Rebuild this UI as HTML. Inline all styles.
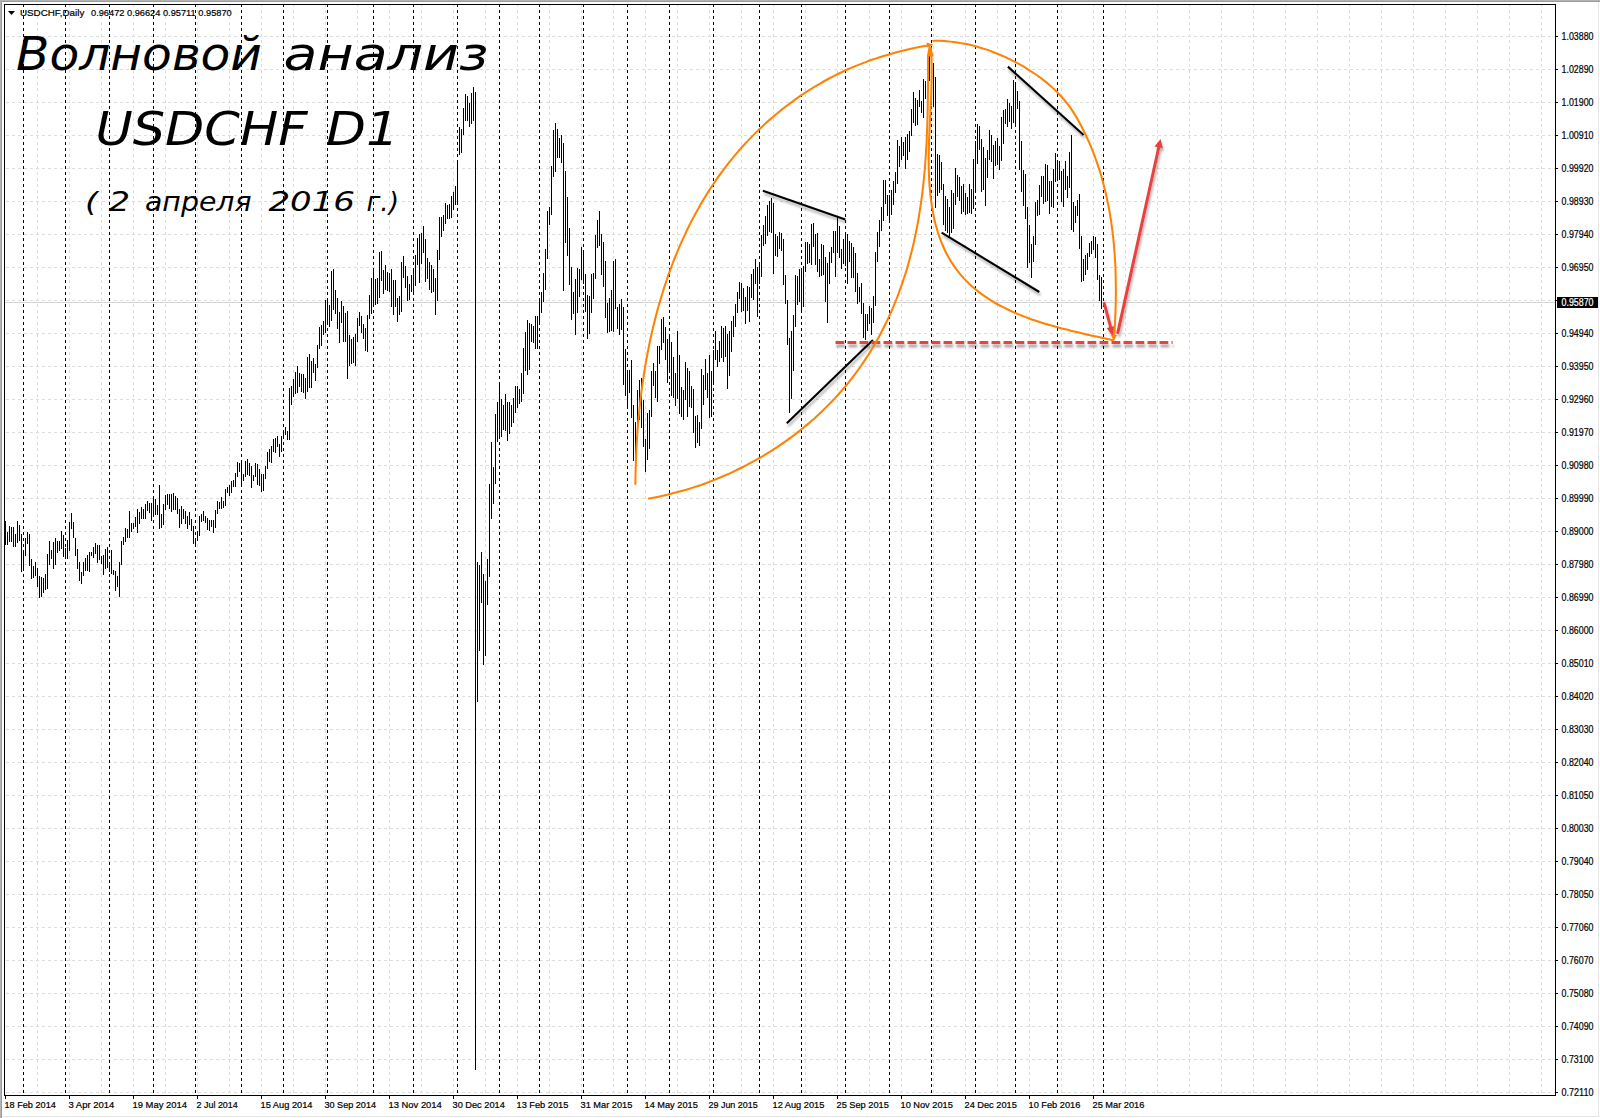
<!DOCTYPE html>
<html lang="ru"><head><meta charset="utf-8"><title>Волновой анализ USDCHF D1</title>
<style>
html,body{margin:0;padding:0;background:#fff;}
body{width:1600px;height:1118px;overflow:hidden;position:relative;}
svg{position:absolute;left:0;top:0;display:block;}
.ax{font-family:"Liberation Sans",sans-serif;font-size:10px;fill:#000;stroke:#000;stroke-width:0.2px;}
.dt{font-family:"Liberation Sans",sans-serif;font-size:9.7px;fill:#000;stroke:#000;stroke-width:0.22px;}
.hd{font-family:"Liberation Sans",sans-serif;font-size:9.4px;fill:#000;stroke:#000;stroke-width:0.2px;}
.hw{font-family:"DejaVu Sans","Liberation Sans",sans-serif;font-style:italic;fill:#000;}
</style></head><body>
<svg width="1600" height="1118" viewBox="0 0 1600 1118">
<rect x="0" y="0" width="1600" height="1118" fill="#ffffff"/>
<g shape-rendering="crispEdges">
<rect x="0" y="0" width="1600" height="1" fill="#b4b4b4"/>
<rect x="0" y="1" width="1600" height="1" fill="#9a9a9a"/>
<rect x="0" y="0" width="1" height="1118" fill="#b4b4b4"/>
<rect x="1" y="1" width="1" height="1118" fill="#9a9a9a"/>
<rect x="1598" y="2" width="1" height="1115" fill="#e6e6e6"/>
<rect x="2" y="1116" width="1597" height="1" fill="#e6e6e6"/>
</g>
<path d="M37.5 4V1095M69.5 4V1095M101.5 4V1095M133.5 4V1095M165.5 4V1095M197.5 4V1095M229.5 4V1095M261.5 4V1095M293.5 4V1095M325.5 4V1095M357.5 4V1095M389.5 4V1095M421.5 4V1095M453.5 4V1095M485.5 4V1095M517.5 4V1095M549.5 4V1095M581.5 4V1095M613.5 4V1095M645.5 4V1095M677.5 4V1095M709.5 4V1095M741.5 4V1095M773.5 4V1095M805.5 4V1095M837.5 4V1095M869.5 4V1095M901.5 4V1095M933.5 4V1095M965.5 4V1095M997.5 4V1095M1029.5 4V1095M1061.5 4V1095M1093.5 4V1095M1125.5 4V1095M1157.5 4V1095M1189.5 4V1095M1221.5 4V1095M1253.5 4V1095M1285.5 4V1095M1317.5 4V1095M1349.5 4V1095M1381.5 4V1095M1413.5 4V1095M1445.5 4V1095M1477.5 4V1095M1509.5 4V1095M1541.5 4V1095" stroke="#dedede" stroke-width="1" stroke-dasharray="3 3" fill="none" shape-rendering="crispEdges"/>
<path d="M6 36.5H1555M6 69.5H1555M6 102.5H1555M6 135.5H1555M6 168.5H1555M6 201.5H1555M6 234.5H1555M6 267.5H1555M6 300.5H1555M6 333.5H1555M6 366.5H1555M6 399.5H1555M6 432.5H1555M6 465.5H1555M6 498.5H1555M6 531.5H1555M6 564.5H1555M6 597.5H1555M6 630.5H1555M6 663.5H1555M6 696.5H1555M6 729.5H1555M6 762.5H1555M6 795.5H1555M6 828.5H1555M6 861.5H1555M6 894.5H1555M6 927.5H1555M6 960.5H1555M6 993.5H1555M6 1026.5H1555M6 1059.5H1555M6 1092.5H1555" stroke="#dedede" stroke-width="1" stroke-dasharray="3 3" fill="none" shape-rendering="crispEdges"/>
<path d="M5 302.5H1555" stroke="#d5d5d5" stroke-width="1" fill="none" shape-rendering="crispEdges"/>
<path d="M23.5 4V1095M65.5 4V1095M109.5 4V1095M153.5 4V1095M195.5 4V1095M241.5 4V1095M283.5 4V1095M327.5 4V1095M373.5 4V1095M413.5 4V1095M457.5 4V1095M499.5 4V1095M539.5 4V1095M583.5 4V1095M627.5 4V1095M669.5 4V1095M713.5 4V1095M759.5 4V1095M801.5 4V1095M845.5 4V1095M889.5 4V1095M931.5 4V1095M975.5 4V1095M1015.5 4V1095M1057.5 4V1095M1103.5 4V1095" stroke="#000" stroke-width="1" stroke-dasharray="3 3" fill="none" shape-rendering="crispEdges"/>
<path d="M5.5 521V545M7.5 532V545M9.5 526V542M11.5 527V542M13.5 527V547M15.5 534V547M17.5 521V543M19.5 525V541M21.5 534V572M23.5 550V571M25.5 538V556M27.5 532V544M29.5 534V566M31.5 559V579M33.5 566V578M35.5 562V576M37.5 568V587M39.5 576V598M41.5 577V597M43.5 578V593M45.5 574V590M47.5 554V589M49.5 541V565M51.5 550V559M53.5 542V569M55.5 538V565M57.5 541V553M59.5 541V551M61.5 531V549M63.5 535V557M65.5 548V559M67.5 540V559M69.5 522V551M71.5 513V529M73.5 522V538M75.5 538V556M77.5 549V569M79.5 562V581M81.5 572V584M83.5 562V576M85.5 558V571M87.5 555V571M89.5 552V572M91.5 552V556M93.5 547V558M95.5 543V554M97.5 545V563M99.5 545V560M101.5 556V564M103.5 555V575M105.5 549V569M107.5 547V568M109.5 562V572M111.5 550V574M113.5 570V575M115.5 571V591M117.5 576V587M119.5 562V597M121.5 541V565M123.5 537V545M125.5 528V542M127.5 529V538M129.5 511V538M131.5 523V532M133.5 523V529M135.5 517V527M137.5 509V533M139.5 512V524M141.5 507V519M143.5 509V519M145.5 504V519M147.5 501V511M149.5 503V513M151.5 503V521M153.5 496V517M155.5 499V515M157.5 505V515M159.5 485V529M161.5 514V528M163.5 504V525M165.5 495V510M167.5 494V505M169.5 494V509M171.5 494V512M173.5 493V510M175.5 496V510M177.5 498V514M179.5 509V528M181.5 506V524M183.5 509V519M185.5 511V524M187.5 516V529M189.5 512V525M191.5 519V531M193.5 526V544M195.5 539V547M197.5 531V541M199.5 516V536M201.5 514V522M203.5 511V521M205.5 516V523M207.5 518V530M209.5 520V531M211.5 520V527M213.5 520V533M215.5 510V528M217.5 501V514M219.5 502V509M221.5 497V509M223.5 501V508M225.5 489V506M227.5 487V493M229.5 485V496M231.5 481V493M233.5 480V487M235.5 473V487M237.5 462V477M239.5 463V472M241.5 461V487M243.5 474V481M245.5 461V477M247.5 459V475M249.5 463V476M251.5 466V488M253.5 475V481M255.5 463V477M257.5 464V485M259.5 469V486M261.5 474V492M263.5 474V491M265.5 466V479M267.5 452V469M269.5 449V462M271.5 446V463M273.5 439V452M275.5 438V453M277.5 436V447M279.5 444V457M281.5 436V452M283.5 430V438M285.5 427V435M287.5 431V440M289.5 388V440M291.5 386V405M293.5 379V397M295.5 372V394M297.5 366V393M299.5 373V387M301.5 374V392M303.5 374V393M305.5 378V399M307.5 357V392M309.5 354V388M311.5 361V388M313.5 358V373M315.5 364V381M317.5 345V368M319.5 327V349M321.5 325V346M323.5 321V335M325.5 300V333M327.5 298V325M329.5 305V327M331.5 271V321M333.5 269V310M335.5 290V314M337.5 298V329M339.5 312V343M341.5 301V323M343.5 306V342M345.5 313V342M347.5 311V379M349.5 335V366M351.5 339V364M353.5 337V363M355.5 334V366M357.5 318V342M359.5 312V326M361.5 316V333M363.5 324V339M365.5 328V351M367.5 315V352M369.5 295V319M371.5 278V314M373.5 268V306M375.5 279V305M377.5 278V304M379.5 252V298M381.5 251V281M383.5 270V294M385.5 265V290M387.5 272V291M389.5 273V292M391.5 269V307M393.5 280V315M395.5 280V307M397.5 298V322M399.5 296V315M401.5 262V312M403.5 256V278M405.5 266V288M407.5 276V301M409.5 284V300M411.5 275V292M413.5 268V294M415.5 255V286M417.5 238V265M419.5 234V283M421.5 233V264M423.5 226V253M425.5 239V282M427.5 258V279M429.5 262V290M431.5 265V293M433.5 269V292M435.5 278V315M437.5 250V301M439.5 217V260M441.5 217V237M443.5 215V231M445.5 203V224M447.5 205V219M449.5 204V219M451.5 196V218M453.5 192V210M455.5 186V205M457.5 160V202M459.5 127V155M461.5 129V153M463.5 108V135M465.5 94V121M467.5 96V121M469.5 103V127M471.5 93V124M473.5 87V121M475.5 92V1070M477.5 562V702M479.5 565V651M481.5 552V603M483.5 574V665M485.5 581V656M487.5 559V605M489.5 484V577M491.5 442V519M493.5 467V504M495.5 414V484M497.5 402V442M499.5 382V436M501.5 399V437M503.5 405V430M505.5 394V431M507.5 402V441M509.5 402V434M511.5 405V427M513.5 398V423M515.5 386V413M517.5 386V408M519.5 389V404M521.5 373V402M523.5 348V394M525.5 332V371M527.5 320V375M529.5 323V370M531.5 324V342M533.5 326V343M535.5 316V349M537.5 316V349M539.5 298V325M541.5 292V313M543.5 273V302M545.5 249V290M547.5 211V259M549.5 207V225M551.5 166V215M553.5 130V177M555.5 123V172M557.5 129V158M559.5 138V158M561.5 135V163M563.5 143V291M565.5 171V243M567.5 197V256M569.5 228V285M571.5 267V320M573.5 292V314M575.5 279V335M577.5 268V313M579.5 269V297M581.5 247V280M583.5 250V284M585.5 274V312M587.5 295V339M589.5 296V334M591.5 274V313M593.5 273V299M595.5 235V279M597.5 220V248M599.5 211V246M601.5 234V275M603.5 242V287M605.5 261V318M607.5 303V333M609.5 298V332M611.5 290V331M613.5 261V332M615.5 259V309M617.5 307V329M619.5 304V335M621.5 299V330M623.5 307V385M625.5 349V396M627.5 371V409M629.5 370V393M631.5 360V418M633.5 405V461M635.5 422V484M637.5 390V428M639.5 380V420M641.5 378V428M643.5 400V447M645.5 439V472M647.5 413V460M649.5 410V449M651.5 371V417M653.5 363V386M655.5 371V398M657.5 346V402M659.5 346V364M661.5 319V350M663.5 317V343M665.5 327V360M667.5 339V383M669.5 334V372M671.5 342V396M673.5 357V398M675.5 373V406M677.5 331V399M679.5 355V414M681.5 387V417M683.5 390V420M685.5 362V400M687.5 368V417M689.5 371V407M691.5 386V408M693.5 389V433M695.5 416V448M697.5 415V443M699.5 422V446M701.5 369V429M703.5 375V405M705.5 359V390M707.5 373V398M709.5 355V418M711.5 371V417M713.5 350V384M715.5 331V360M717.5 350V367M719.5 341V362M721.5 326V358M723.5 328V362M725.5 326V357M727.5 334V389M729.5 331V376M731.5 321V352M733.5 316V337M735.5 304V327M737.5 292V313M739.5 282V299M741.5 283V312M743.5 288V311M745.5 297V324M747.5 286V311M749.5 287V322M751.5 274V298M753.5 269V300M755.5 259V284M757.5 267V317M759.5 262V284M761.5 235V277M763.5 225V246M765.5 216V244M767.5 205V236M769.5 201V232M771.5 198V233M773.5 203V274M775.5 234V256M777.5 236V257M779.5 232V249M781.5 233V251M783.5 239V285M785.5 275V304M787.5 300V345M789.5 338V413M791.5 331V399M793.5 315V371M795.5 275V327M797.5 276V305M799.5 269V302M801.5 269V313M803.5 266V307M805.5 242V272M807.5 242V264M809.5 244V263M811.5 224V265M813.5 223V247M815.5 234V265M817.5 233V272M819.5 259V277M821.5 244V276M823.5 245V275M825.5 257V302M827.5 263V323M829.5 252V284M831.5 247V263M833.5 231V253M835.5 231V277M837.5 217V253M839.5 226V258M841.5 249V269M843.5 239V264M845.5 232V266M847.5 234V284M849.5 241V262M851.5 243V278M853.5 247V278M855.5 253V292M857.5 273V304M859.5 287V302M861.5 283V314M863.5 303V338M865.5 314V340M867.5 314V331M869.5 306V324M871.5 308V335M873.5 296V323M875.5 252V306M877.5 232V262M879.5 220V247M881.5 207V231M883.5 180V221M885.5 180V204M887.5 195V216M889.5 195V222M891.5 190V215M893.5 181V205M895.5 172V193M897.5 140V184M899.5 146V167M901.5 137V160M903.5 142V156M905.5 137V169M907.5 134V160M909.5 131V152M911.5 109V136M913.5 92V123M915.5 98V126M917.5 100V125M919.5 90V107M921.5 101V113M923.5 79V118M925.5 81V99M927.5 56V94M929.5 54V81M931.5 56V105M933.5 63V107M935.5 77V208M937.5 154V196M939.5 155V193M941.5 162V190M943.5 184V225M945.5 196V231M947.5 199V233M949.5 207V237M951.5 190V233M953.5 193V229M955.5 168V205M957.5 175V197M959.5 177V201M961.5 186V214M963.5 184V212M965.5 193V215M967.5 197V214M969.5 184V213M971.5 189V214M973.5 159V209M975.5 141V193M977.5 124V164M979.5 126V150M981.5 139V192M983.5 147V190M985.5 158V206M987.5 150V178M989.5 130V160M991.5 135V162M993.5 145V179M995.5 141V166M997.5 138V165M999.5 146V170M1001.5 117V161M1003.5 110V144M1005.5 109V124M1007.5 99V127M1009.5 103V122M1011.5 106V129M1013.5 80V123M1015.5 83V124M1017.5 91V109M1019.5 101V170M1021.5 141V192M1023.5 170V206M1025.5 174V219M1027.5 207V268M1029.5 225V263M1031.5 244V278M1033.5 236V262M1035.5 202V245M1037.5 200V216M1039.5 185V215M1041.5 176V197M1043.5 176V204M1045.5 164V202M1047.5 165V201M1049.5 181V214M1051.5 181V207M1053.5 169V208M1055.5 153V182M1057.5 161V181M1059.5 161V180M1061.5 171V202M1063.5 169V207M1065.5 161V190M1067.5 176V198M1069.5 152V188M1071.5 135V230M1073.5 202V232M1075.5 206V223M1077.5 200V216M1079.5 194V249M1081.5 236V282M1083.5 259V281M1085.5 255V275M1087.5 253V270M1089.5 243V257M1091.5 241V254M1093.5 236V250M1095.5 237V258M1097.5 244V280M1099.5 275V301M1101.5 277V309" stroke="#000" stroke-width="1" fill="none" shape-rendering="crispEdges"/>
<g shape-rendering="crispEdges" fill="#000">
<rect x="4" y="4" width="1552" height="1"/>
<rect x="4" y="4" width="1" height="1092"/>
<rect x="1555" y="4" width="1" height="1092"/>
<rect x="4" y="1095" width="1552" height="1"/>
<rect x="1556" y="36" width="2" height="1"/>
<rect x="1556" y="69" width="2" height="1"/>
<rect x="1556" y="102" width="2" height="1"/>
<rect x="1556" y="135" width="2" height="1"/>
<rect x="1556" y="168" width="2" height="1"/>
<rect x="1556" y="201" width="2" height="1"/>
<rect x="1556" y="234" width="2" height="1"/>
<rect x="1556" y="267" width="2" height="1"/>
<rect x="1556" y="300" width="2" height="1"/>
<rect x="1556" y="333" width="2" height="1"/>
<rect x="1556" y="366" width="2" height="1"/>
<rect x="1556" y="399" width="2" height="1"/>
<rect x="1556" y="432" width="2" height="1"/>
<rect x="1556" y="465" width="2" height="1"/>
<rect x="1556" y="498" width="2" height="1"/>
<rect x="1556" y="531" width="2" height="1"/>
<rect x="1556" y="564" width="2" height="1"/>
<rect x="1556" y="597" width="2" height="1"/>
<rect x="1556" y="630" width="2" height="1"/>
<rect x="1556" y="663" width="2" height="1"/>
<rect x="1556" y="696" width="2" height="1"/>
<rect x="1556" y="729" width="2" height="1"/>
<rect x="1556" y="762" width="2" height="1"/>
<rect x="1556" y="795" width="2" height="1"/>
<rect x="1556" y="828" width="2" height="1"/>
<rect x="1556" y="861" width="2" height="1"/>
<rect x="1556" y="894" width="2" height="1"/>
<rect x="1556" y="927" width="2" height="1"/>
<rect x="1556" y="960" width="2" height="1"/>
<rect x="1556" y="993" width="2" height="1"/>
<rect x="1556" y="1026" width="2" height="1"/>
<rect x="1556" y="1059" width="2" height="1"/>
<rect x="1556" y="1092" width="2" height="1"/>
<rect x="5" y="1096" width="1" height="3"/>
<rect x="69" y="1096" width="1" height="3"/>
<rect x="133" y="1096" width="1" height="3"/>
<rect x="197" y="1096" width="1" height="3"/>
<rect x="261" y="1096" width="1" height="3"/>
<rect x="325" y="1096" width="1" height="3"/>
<rect x="389" y="1096" width="1" height="3"/>
<rect x="453" y="1096" width="1" height="3"/>
<rect x="517" y="1096" width="1" height="3"/>
<rect x="581" y="1096" width="1" height="3"/>
<rect x="645" y="1096" width="1" height="3"/>
<rect x="709" y="1096" width="1" height="3"/>
<rect x="773" y="1096" width="1" height="3"/>
<rect x="837" y="1096" width="1" height="3"/>
<rect x="901" y="1096" width="1" height="3"/>
<rect x="965" y="1096" width="1" height="3"/>
<rect x="1029" y="1096" width="1" height="3"/>
<rect x="1093" y="1096" width="1" height="3"/>
<rect x="1557" y="297" width="41" height="11"/>
</g>
<text class="ax" x="1561.5" y="39.6" textLength="32" lengthAdjust="spacingAndGlyphs">1.03880</text>
<text class="ax" x="1561.5" y="72.6" textLength="32" lengthAdjust="spacingAndGlyphs">1.02890</text>
<text class="ax" x="1561.5" y="105.6" textLength="32" lengthAdjust="spacingAndGlyphs">1.01900</text>
<text class="ax" x="1561.5" y="138.6" textLength="32" lengthAdjust="spacingAndGlyphs">1.00910</text>
<text class="ax" x="1561.5" y="171.6" textLength="32" lengthAdjust="spacingAndGlyphs">0.99920</text>
<text class="ax" x="1561.5" y="204.6" textLength="32" lengthAdjust="spacingAndGlyphs">0.98930</text>
<text class="ax" x="1561.5" y="237.6" textLength="32" lengthAdjust="spacingAndGlyphs">0.97940</text>
<text class="ax" x="1561.5" y="270.6" textLength="32" lengthAdjust="spacingAndGlyphs">0.96950</text>
<text class="ax" x="1561.5" y="336.6" textLength="32" lengthAdjust="spacingAndGlyphs">0.94940</text>
<text class="ax" x="1561.5" y="369.6" textLength="32" lengthAdjust="spacingAndGlyphs">0.93950</text>
<text class="ax" x="1561.5" y="402.6" textLength="32" lengthAdjust="spacingAndGlyphs">0.92960</text>
<text class="ax" x="1561.5" y="435.6" textLength="32" lengthAdjust="spacingAndGlyphs">0.91970</text>
<text class="ax" x="1561.5" y="468.6" textLength="32" lengthAdjust="spacingAndGlyphs">0.90980</text>
<text class="ax" x="1561.5" y="501.6" textLength="32" lengthAdjust="spacingAndGlyphs">0.89990</text>
<text class="ax" x="1561.5" y="534.6" textLength="32" lengthAdjust="spacingAndGlyphs">0.89000</text>
<text class="ax" x="1561.5" y="567.6" textLength="32" lengthAdjust="spacingAndGlyphs">0.87980</text>
<text class="ax" x="1561.5" y="600.6" textLength="32" lengthAdjust="spacingAndGlyphs">0.86990</text>
<text class="ax" x="1561.5" y="633.6" textLength="32" lengthAdjust="spacingAndGlyphs">0.86000</text>
<text class="ax" x="1561.5" y="666.6" textLength="32" lengthAdjust="spacingAndGlyphs">0.85010</text>
<text class="ax" x="1561.5" y="699.6" textLength="32" lengthAdjust="spacingAndGlyphs">0.84020</text>
<text class="ax" x="1561.5" y="732.6" textLength="32" lengthAdjust="spacingAndGlyphs">0.83030</text>
<text class="ax" x="1561.5" y="765.6" textLength="32" lengthAdjust="spacingAndGlyphs">0.82040</text>
<text class="ax" x="1561.5" y="798.6" textLength="32" lengthAdjust="spacingAndGlyphs">0.81050</text>
<text class="ax" x="1561.5" y="831.6" textLength="32" lengthAdjust="spacingAndGlyphs">0.80030</text>
<text class="ax" x="1561.5" y="864.6" textLength="32" lengthAdjust="spacingAndGlyphs">0.79040</text>
<text class="ax" x="1561.5" y="897.6" textLength="32" lengthAdjust="spacingAndGlyphs">0.78050</text>
<text class="ax" x="1561.5" y="930.6" textLength="32" lengthAdjust="spacingAndGlyphs">0.77060</text>
<text class="ax" x="1561.5" y="963.6" textLength="32" lengthAdjust="spacingAndGlyphs">0.76070</text>
<text class="ax" x="1561.5" y="996.6" textLength="32" lengthAdjust="spacingAndGlyphs">0.75080</text>
<text class="ax" x="1561.5" y="1029.6" textLength="32" lengthAdjust="spacingAndGlyphs">0.74090</text>
<text class="ax" x="1561.5" y="1062.6" textLength="32" lengthAdjust="spacingAndGlyphs">0.73100</text>
<text class="ax" x="1561.5" y="1095.6" textLength="32" lengthAdjust="spacingAndGlyphs">0.72110</text>
<text class="ax" x="1561.5" y="305.6" textLength="32" lengthAdjust="spacingAndGlyphs" style="fill:#fff;stroke:#fff">0.95870</text>
<text class="dt" x="4.5" y="1108.2" textLength="51.3" lengthAdjust="spacingAndGlyphs">18 Feb 2014</text>
<text class="dt" x="68.5" y="1108.2" textLength="45.8" lengthAdjust="spacingAndGlyphs">3 Apr 2014</text>
<text class="dt" x="132.5" y="1108.2" textLength="54.5" lengthAdjust="spacingAndGlyphs">19 May 2014</text>
<text class="dt" x="196.5" y="1108.2" textLength="41.3" lengthAdjust="spacingAndGlyphs">2 Jul 2014</text>
<text class="dt" x="260.5" y="1108.2" textLength="52" lengthAdjust="spacingAndGlyphs">15 Aug 2014</text>
<text class="dt" x="324.5" y="1108.2" textLength="51.5" lengthAdjust="spacingAndGlyphs">30 Sep 2014</text>
<text class="dt" x="388.5" y="1108.2" textLength="53.3" lengthAdjust="spacingAndGlyphs">13 Nov 2014</text>
<text class="dt" x="452.5" y="1108.2" textLength="52.3" lengthAdjust="spacingAndGlyphs">30 Dec 2014</text>
<text class="dt" x="516.5" y="1108.2" textLength="51.8" lengthAdjust="spacingAndGlyphs">13 Feb 2015</text>
<text class="dt" x="580.5" y="1108.2" textLength="51.8" lengthAdjust="spacingAndGlyphs">31 Mar 2015</text>
<text class="dt" x="644.5" y="1108.2" textLength="53.3" lengthAdjust="spacingAndGlyphs">14 May 2015</text>
<text class="dt" x="708.5" y="1108.2" textLength="49.2" lengthAdjust="spacingAndGlyphs">29 Jun 2015</text>
<text class="dt" x="772.5" y="1108.2" textLength="51.8" lengthAdjust="spacingAndGlyphs">12 Aug 2015</text>
<text class="dt" x="836.5" y="1108.2" textLength="52.3" lengthAdjust="spacingAndGlyphs">25 Sep 2015</text>
<text class="dt" x="900.5" y="1108.2" textLength="52.3" lengthAdjust="spacingAndGlyphs">10 Nov 2015</text>
<text class="dt" x="964.5" y="1108.2" textLength="52.3" lengthAdjust="spacingAndGlyphs">24 Dec 2015</text>
<text class="dt" x="1028.5" y="1108.2" textLength="51.8" lengthAdjust="spacingAndGlyphs">10 Feb 2016</text>
<text class="dt" x="1092.5" y="1108.2" textLength="51.8" lengthAdjust="spacingAndGlyphs">25 Mar 2016</text>
<path d="M8 11H15L11.5 15Z" fill="#000"/>
<text class="hd" x="20" y="16.2" textLength="64.3" lengthAdjust="spacingAndGlyphs">USDCHF,Daily</text>
<text class="hd" x="91" y="16.2" textLength="140.7" lengthAdjust="spacingAndGlyphs">0.96472 0.96624 0.95711 0.95870</text>
<defs><filter id="sh" x="-10%" y="-10%" width="125%" height="130%" filterUnits="objectBoundingBox"><feDropShadow dx="1.2" dy="3" stdDeviation="1.3" flood-color="#000" flood-opacity="0.30"/></filter><filter id="sh2" filterUnits="userSpaceOnUse" x="820" y="330" width="370" height="30"><feDropShadow dx="1" dy="3.4" stdDeviation="1.3" flood-color="#000" flood-opacity="0.36"/></filter></defs>
<g fill="none" stroke="#000" stroke-width="2.1" stroke-linecap="butt" filter="url(#sh)">
<path d="M762.9 190.7L845.3 219.6"/>
<path d="M786.8 423.2L872.9 340.1"/>
<path d="M1007.9 66.6L1083.6 135"/>
<path d="M941.6 232.6L1039.3 292"/>
</g>
<path d="M835.5 342.4H1172.6" stroke="#e8423f" stroke-width="3" stroke-dasharray="8.8 3.2" fill="none" filter="url(#sh2)"/>
<g filter="url(#sh)">
<path d="M1117.8 332.6L1159.0 146.3" stroke="#e8423f" stroke-width="3" stroke-linecap="round" fill="none"/><path d="M1160.6 138.9L1162.9 148.2L1154.5 146.4Z" fill="#e8423f"/>
<path d="M1104.2 303.2L1110.8 327.9" stroke="#e8423f" stroke-width="2.9" stroke-linecap="round" fill="none"/><path d="M1113.1 336.6L1106.7 328.0L1114.4 325.9Z" fill="#e8423f"/>
</g>
<g fill="none" stroke="#ff8204" stroke-width="2.05" stroke-linecap="round" stroke-linejoin="round">
<path d="M635.4 484.0C635.4 482.4 635.5 477.6 635.5 474.4C635.6 471.1 635.7 467.9 635.8 464.7C635.9 461.4 636.0 458.2 636.1 455.0C636.2 451.7 636.4 448.4 636.6 445.2C636.8 441.9 637.0 438.7 637.2 435.4C637.4 432.1 637.6 428.9 637.9 425.6C638.2 422.3 638.5 419.0 638.8 415.8C639.1 412.5 639.4 409.2 639.8 405.9C640.1 402.6 640.5 399.4 640.9 396.1C641.3 392.8 641.7 389.5 642.2 386.2C642.6 383.0 643.1 379.7 643.6 376.4C644.1 373.1 644.6 369.9 645.2 366.6C645.7 363.3 646.3 360.1 646.9 356.8C647.5 353.5 648.1 350.3 648.8 347.0C649.4 343.8 650.1 340.6 650.8 337.3C651.5 334.1 652.3 330.8 653.0 327.6C653.8 324.4 654.6 321.2 655.4 318.0C656.2 314.8 657.1 311.6 658.0 308.4C658.8 305.2 659.7 302.0 660.7 298.9C661.6 295.7 662.6 292.6 663.6 289.4C664.6 286.3 665.6 283.2 666.7 280.0C667.7 276.9 668.8 273.8 670.0 270.7C671.1 267.6 672.2 264.6 673.4 261.5C674.6 258.5 675.8 255.4 677.1 252.4C678.3 249.4 679.6 246.3 680.9 243.4C682.3 240.4 683.6 237.4 685.0 234.4C686.4 231.5 687.8 228.5 689.2 225.6C690.7 222.7 692.2 219.8 693.7 216.9C695.2 214.0 696.8 211.2 698.4 208.4C700.0 205.5 701.6 202.7 703.3 199.9C705.0 197.1 706.7 194.4 708.4 191.6C710.2 188.9 711.9 186.1 713.8 183.5C715.6 180.8 717.4 178.1 719.3 175.4C721.2 172.8 723.1 170.2 725.1 167.6C727.1 165.0 729.1 162.4 731.1 159.9C733.2 157.4 735.3 154.8 737.4 152.4C739.5 149.9 741.7 147.4 743.9 145.0C746.1 142.6 748.4 140.2 750.7 137.9C752.9 135.5 755.3 133.2 757.6 130.9C760.0 128.6 762.4 126.3 764.8 124.1C767.2 121.9 769.7 119.7 772.2 117.6C774.7 115.4 777.2 113.3 779.8 111.2C782.4 109.2 784.9 107.1 787.6 105.2C790.2 103.2 792.9 101.2 795.5 99.3C798.2 97.4 800.9 95.5 803.7 93.7C806.4 91.9 809.2 90.1 812.0 88.4C814.8 86.6 817.6 84.9 820.5 83.3C823.3 81.7 826.2 80.1 829.1 78.5C832.0 77.0 834.9 75.5 837.9 74.0C840.8 72.6 843.8 71.2 846.8 69.8C849.8 68.5 852.8 67.2 855.9 65.9C858.9 64.7 861.9 63.5 865.0 62.4C868.1 61.2 871.2 60.1 874.3 59.1C877.4 58.0 880.5 57.0 883.6 56.0C886.8 55.1 889.9 54.2 893.1 53.3C896.3 52.4 899.4 51.6 902.6 50.8C905.8 50.0 909.0 49.3 912.2 48.6C915.4 47.9 918.6 47.2 921.8 46.6C925.0 45.9 929.9 45.1 931.5 44.8"/>
<path d="M649.0 498.6C650.6 498.3 655.4 497.4 658.6 496.7C661.8 496.0 665.0 495.3 668.2 494.6C671.3 493.8 674.5 493.0 677.7 492.1C680.8 491.3 684.0 490.4 687.1 489.4C690.2 488.5 693.4 487.5 696.5 486.4C699.6 485.4 702.7 484.3 705.8 483.2C708.8 482.0 711.9 480.8 715.0 479.6C718.0 478.4 721.0 477.1 724.1 475.8C727.1 474.5 730.1 473.2 733.0 471.8C736.0 470.4 739.0 469.0 741.9 467.5C744.8 466.0 747.7 464.5 750.6 462.9C753.5 461.4 756.4 459.8 759.2 458.2C762.1 456.5 764.9 454.8 767.7 453.1C770.5 451.4 773.3 449.6 776.0 447.8C778.7 446.0 781.4 444.2 784.1 442.3C786.8 440.4 789.5 438.5 792.1 436.6C794.7 434.6 797.3 432.6 799.9 430.6C802.4 428.5 805.0 426.5 807.5 424.4C810.0 422.3 812.4 420.1 814.9 417.9C817.3 415.8 819.7 413.5 822.0 411.3C824.4 409.0 826.7 406.8 829.0 404.4C831.3 402.1 833.5 399.7 835.7 397.4C838.0 395.0 840.1 392.5 842.2 390.1C844.4 387.6 846.5 385.1 848.5 382.6C850.5 380.1 852.6 377.5 854.5 374.9C856.5 372.3 858.4 369.7 860.2 367.0C862.1 364.4 863.9 361.7 865.7 358.9C867.5 356.2 869.2 353.5 870.9 350.7C872.6 347.9 874.3 345.1 875.9 342.3C877.5 339.4 879.1 336.6 880.6 333.7C882.1 330.8 883.6 327.9 885.0 325.0C886.5 322.1 887.9 319.1 889.2 316.1C890.6 313.2 891.9 310.2 893.2 307.1C894.4 304.1 895.7 301.1 896.9 298.0C898.1 295.0 899.2 291.9 900.3 288.8C901.4 285.8 902.5 282.7 903.5 279.5C904.6 276.4 905.6 273.3 906.5 270.2C907.5 267.0 908.4 263.9 909.2 260.7C910.1 257.6 910.9 254.4 911.7 251.2C912.5 248.0 913.3 244.8 914.0 241.6C914.7 238.4 915.4 235.2 916.0 232.0C916.7 228.8 917.3 225.6 917.9 222.4C918.5 219.1 919.0 215.9 919.5 212.6C920.1 209.4 920.5 206.2 921.0 202.9C921.5 199.7 921.9 196.4 922.3 193.1C922.7 189.9 923.1 186.6 923.4 183.3C923.8 180.1 924.1 176.8 924.4 173.5C924.7 170.3 925.0 167.0 925.2 163.7C925.5 160.4 925.7 157.1 925.9 153.9C926.1 150.6 926.3 147.3 926.5 144.0C926.7 140.7 926.8 137.4 926.9 134.2C927.1 130.9 927.2 127.6 927.3 124.3C927.4 121.0 927.5 117.8 927.6 114.5C927.7 111.2 927.7 107.9 927.8 104.7C927.8 101.4 927.9 98.1 927.9 94.9C928.0 91.6 928.0 88.4 928.0 85.1C928.0 81.9 928.0 78.6 928.0 75.4C928.0 72.1 928.0 68.9 928.0 65.7C928.0 62.4 928.0 57.6 928.0 56.0"/>
<path d="M931.0 48.0C931.1 49.1 931.3 52.5 931.4 54.8C931.5 57.1 931.5 59.4 931.6 61.6C931.7 63.9 931.7 66.2 931.7 68.5C931.7 70.7 931.7 73.0 931.7 75.3C931.7 77.5 931.6 79.8 931.6 82.1C931.5 84.4 931.5 86.6 931.4 88.9C931.3 91.2 931.2 93.5 931.2 95.7C931.1 98.0 931.0 100.3 930.9 102.5C930.8 104.8 930.6 107.1 930.5 109.4C930.4 111.6 930.3 113.9 930.2 116.2C930.1 118.5 930.0 120.7 929.8 123.0C929.7 125.3 929.6 127.6 929.5 129.8C929.4 132.1 929.3 134.4 929.2 136.6C929.1 138.9 929.1 141.2 929.0 143.5C928.9 145.7 928.9 148.0 928.8 150.3C928.8 152.6 928.7 154.9 928.7 157.1C928.7 159.4 928.7 161.7 928.7 164.0C928.7 166.2 928.8 168.5 928.8 170.8C928.9 173.1 929.0 175.4 929.1 177.6C929.2 179.9 929.3 182.2 929.5 184.5C929.7 186.8 929.8 189.0 930.1 191.3C930.3 193.6 930.5 195.9 930.8 198.2C931.1 200.4 931.4 202.7 931.7 205.0C932.1 207.3 932.4 209.5 932.9 211.8C933.3 214.0 933.7 216.3 934.2 218.5C934.7 220.8 935.3 223.0 935.8 225.2C936.4 227.4 937.1 229.6 937.7 231.7C938.4 233.9 939.1 236.1 939.9 238.2C940.6 240.3 941.5 242.4 942.3 244.5C943.2 246.6 944.1 248.6 945.1 250.7C946.0 252.7 947.1 254.7 948.2 256.6C949.2 258.6 950.4 260.5 951.6 262.4C952.8 264.3 954.0 266.2 955.4 268.0C956.7 269.8 958.1 271.6 959.5 273.3C960.9 275.0 962.4 276.7 963.9 278.4C965.5 280.0 967.1 281.6 968.7 283.2C970.3 284.8 972.0 286.3 973.7 287.8C975.4 289.3 977.2 290.7 979.0 292.1C980.8 293.5 982.6 294.9 984.5 296.2C986.4 297.5 988.3 298.7 990.2 299.9C992.1 301.1 994.1 302.3 996.1 303.5C998.1 304.6 1000.1 305.7 1002.1 306.7C1004.1 307.8 1006.2 308.8 1008.3 309.8C1010.4 310.8 1012.4 311.7 1014.5 312.6C1016.6 313.6 1018.8 314.4 1020.9 315.3C1023.0 316.1 1025.1 317.0 1027.3 317.8C1029.4 318.6 1031.6 319.3 1033.7 320.1C1035.9 320.8 1038.1 321.5 1040.2 322.2C1042.4 322.9 1044.6 323.6 1046.8 324.2C1049.0 324.9 1051.2 325.5 1053.4 326.1C1055.6 326.8 1057.8 327.4 1060.0 327.9C1062.2 328.5 1064.4 329.1 1066.6 329.6C1068.8 330.2 1071.0 330.7 1073.2 331.3C1075.5 331.8 1077.7 332.3 1079.9 332.8C1082.1 333.4 1084.3 333.9 1086.5 334.4C1088.8 334.9 1091.0 335.4 1093.2 335.9C1095.4 336.4 1097.6 336.8 1099.8 337.3C1102.0 337.8 1104.2 338.3 1106.4 338.8C1108.6 339.3 1111.9 340.1 1113.0 340.3"/>
<path d="M933.2 40.7C934.3 40.7 937.7 40.7 939.9 40.8C942.1 40.9 944.4 41.0 946.6 41.2C948.8 41.4 951.0 41.6 953.3 41.9C955.5 42.2 957.7 42.5 959.9 42.9C962.1 43.2 964.3 43.7 966.5 44.1C968.7 44.6 970.9 45.1 973.1 45.6C975.2 46.2 977.4 46.8 979.6 47.4C981.7 48.0 983.9 48.7 986.0 49.4C988.1 50.1 990.3 50.9 992.4 51.7C994.5 52.5 996.6 53.3 998.7 54.2C1000.8 55.0 1002.8 55.9 1004.9 56.9C1006.9 57.8 1009.0 58.8 1011.0 59.8C1013.0 60.8 1015.0 61.8 1017.0 62.9C1019.0 64.0 1021.0 65.1 1022.9 66.2C1024.9 67.4 1026.8 68.6 1028.7 69.8C1030.6 71.0 1032.5 72.2 1034.3 73.5C1036.2 74.7 1038.0 76.0 1039.8 77.3C1041.6 78.7 1043.4 80.0 1045.2 81.4C1046.9 82.8 1048.6 84.2 1050.3 85.7C1052.0 87.2 1053.6 88.7 1055.2 90.2C1056.8 91.8 1058.4 93.3 1059.9 95.0C1061.4 96.6 1062.9 98.2 1064.3 100.0C1065.8 101.7 1067.1 103.4 1068.5 105.2C1069.8 107.0 1071.1 108.8 1072.3 110.7C1073.6 112.6 1074.7 114.5 1075.9 116.4C1077.1 118.3 1078.2 120.3 1079.3 122.2C1080.3 124.2 1081.4 126.2 1082.4 128.2C1083.4 130.2 1084.4 132.2 1085.4 134.3C1086.4 136.3 1087.3 138.3 1088.2 140.4C1089.1 142.4 1090.0 144.5 1090.9 146.5C1091.7 148.6 1092.6 150.7 1093.4 152.8C1094.2 154.8 1095.0 156.9 1095.7 159.0C1096.5 161.1 1097.2 163.3 1097.9 165.4C1098.6 167.5 1099.3 169.6 1100.0 171.8C1100.6 173.9 1101.3 176.0 1101.9 178.2C1102.5 180.3 1103.1 182.5 1103.6 184.6C1104.2 186.8 1104.7 189.0 1105.3 191.2C1105.8 193.3 1106.3 195.5 1106.8 197.7C1107.2 199.9 1107.7 202.1 1108.1 204.3C1108.6 206.5 1109.0 208.7 1109.4 210.9C1109.8 213.1 1110.1 215.3 1110.5 217.5C1110.9 219.7 1111.2 222.0 1111.5 224.2C1111.8 226.4 1112.1 228.6 1112.4 230.9C1112.7 233.1 1112.9 235.3 1113.2 237.6C1113.4 239.8 1113.6 242.1 1113.9 244.3C1114.1 246.5 1114.3 248.8 1114.4 251.0C1114.6 253.3 1114.8 255.5 1114.9 257.8C1115.0 260.0 1115.2 262.3 1115.3 264.5C1115.4 266.8 1115.5 269.0 1115.5 271.3C1115.6 273.6 1115.7 275.8 1115.7 278.1C1115.8 280.3 1115.8 282.6 1115.8 284.8C1115.9 287.1 1115.9 289.3 1115.9 291.6C1115.9 293.8 1115.8 296.1 1115.8 298.3C1115.8 300.6 1115.7 302.8 1115.7 305.1C1115.6 307.3 1115.5 309.5 1115.5 311.8C1115.4 314.0 1115.3 316.3 1115.2 318.5C1115.1 320.7 1115.0 323.0 1114.9 325.2C1114.7 327.4 1114.6 329.6 1114.5 331.9C1114.3 334.1 1114.1 337.4 1114.0 338.5"/>
</g>
<g fill="#ff8204" stroke="none">
<path d="M933 44.4L926.5 42.6L927.3 47.6Z"/>
<path d="M929.2 43.4L926.9 56.6L933.8 56.6Z"/>
<path d="M1113.8 341L1111 335L1117 335Z"/>
</g>
<g class="hw">
<text x="16" y="70.3" font-size="47" textLength="246" lengthAdjust="spacingAndGlyphs">Волновой</text>
<text x="283.5" y="70.3" font-size="47" textLength="205" lengthAdjust="spacingAndGlyphs">анализ</text>
<text x="95.5" y="145" font-size="47" textLength="212" lengthAdjust="spacingAndGlyphs">USDCHF</text>
<text x="326" y="145" font-size="47" textLength="73" lengthAdjust="spacingAndGlyphs">D1</text>
<text x="85" y="210.5" font-size="26.5" textLength="45" lengthAdjust="spacingAndGlyphs">( 2</text>
<text x="145" y="210.5" font-size="26.5" textLength="106.5" lengthAdjust="spacingAndGlyphs">апреля</text>
<text x="268.5" y="210.5" font-size="26.5" textLength="86.5" lengthAdjust="spacingAndGlyphs">2016</text>
<text x="366.5" y="210.5" font-size="26.5" textLength="32.5" lengthAdjust="spacingAndGlyphs">г.)</text>
</g>
</svg></body></html>
